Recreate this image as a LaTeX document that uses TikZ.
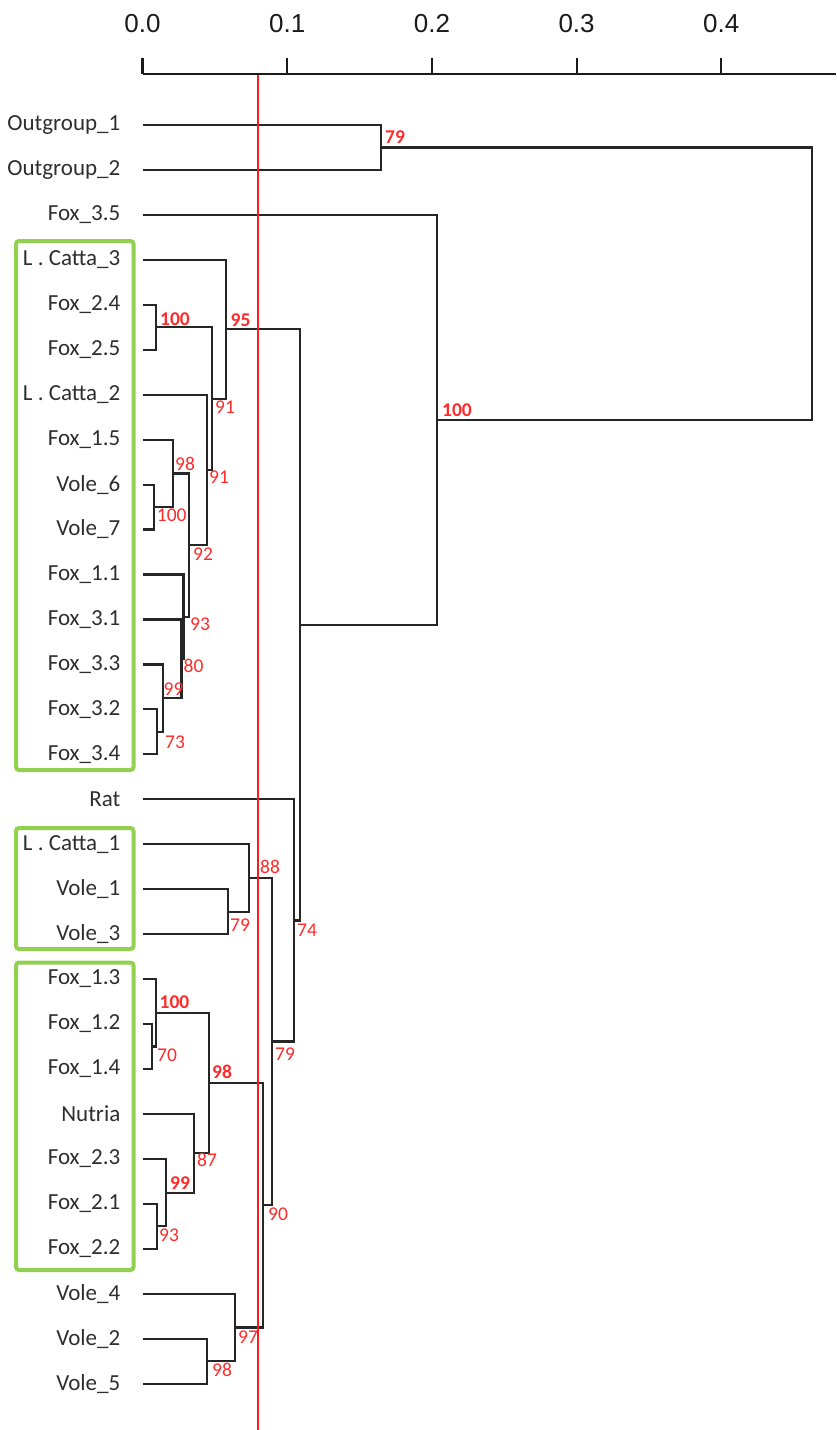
\documentclass[tikz,border=0pt]{standalone}
\usepackage{fontspec}
\setmainfont{Carlito}
\newfontfamily\axisfont{Liberation Sans}
\definecolor{treecol}{HTML}{262626}
\definecolor{leafcol}{HTML}{2E2E2E}
\definecolor{bscol}{HTML}{FF2A2A}
\definecolor{boxgreen}{HTML}{92D050}
\definecolor{rlcol}{HTML}{FF1A1A}
\definecolor{axcol}{HTML}{1A1A1A}
\begin{document}
\begin{tikzpicture}[x=1pt,y=-1pt,
  tree/.style={draw=treecol, line width=2.2pt},
  axisline/.style={draw=axcol, line width=2.2pt},
  cutline/.style={draw=rlcol, line width=2pt},
  leaf/.style={anchor=east, inner sep=0pt, text=leafcol, font=\fontsize{23}{27}\selectfont},
  bs/.style={anchor=base west, inner sep=0pt, text=bscol, font=\fontsize{19.5}{22}\selectfont},
  bsb/.style={anchor=base west, inner sep=0pt, text=bscol, font=\fontsize{19.5}{22}\selectfont\bfseries},
  grpbox/.style={draw=boxgreen, line width=4pt, rounded corners=3pt},
  axlab/.style={anchor=base, inner sep=0pt, text=axcol, font=\axisfont\fontsize{26}{29}\selectfont}]
\useasboundingbox (0,0) rectangle (836,1430);

% group boxes
\draw[grpbox] (16,241) rectangle (133.5,770);
\draw[grpbox] (16,828) rectangle (133.5,949);
\draw[grpbox] (16,962.5) rectangle (133.5,1270);

% axis
\coordinate (a0) at (142.5,74);
\coordinate (aend) at (836,74);
\draw[axisline] (a0) -- (aend);
\foreach \k in {0,1,2,3,4} {
  \coordinate (tk\k) at ({142.5+144.7*\k},58);
  \coordinate (tb\k) at ({142.5+144.7*\k},74);
  \draw[axisline] (tk\k) -- (tb\k);
  \node[axlab] (ax\k) at ({142.5+144.7*\k},32) {0.\k};
}

% leaves
\foreach \i/\t in {0/Outgroup\_1,1/Outgroup\_2,2/Fox\_3.5,3/L . Catta\_3,4/Fox\_2.4,5/Fox\_2.5,
  6/L . Catta\_2,7/Fox\_1.5,8/Vole\_6,9/Vole\_7,10/Fox\_1.1,11/Fox\_3.1,12/Fox\_3.3,13/Fox\_3.2,
  14/Fox\_3.4,15/Rat,16/L . Catta\_1,17/Vole\_1,18/Vole\_3,19/Fox\_1.3,20/Fox\_1.2,21/Fox\_1.4,
  22/Nutria,23/Fox\_2.3,24/Fox\_2.1,25/Fox\_2.2,26/Vole\_4,27/Vole\_2,28/Vole\_5} {
  \node[leaf] (L\i) at (120.5,{125+44.95*\i}) {\t};
  \coordinate (t\i) at (142.5,{125+44.95*\i});
}

% internal nodes
\coordinate (og) at (381,147.5);
\coordinate (root) at (812,283.7);
\coordinate (n35) at (437,419.85);
\coordinate (big) at (300,624.8);
\coordinate (n95) at (226,329.2);
\coordinate (n91a) at (212,398.6);
\coordinate (n100a) at (155.7,327.3);
\coordinate (n91b) at (207,469.85);
\coordinate (n92) at (189,545.0);
\coordinate (n98a) at (172.7,473.4);
\coordinate (n100b) at (154,507.1);
\coordinate (n93a) at (183.5,616.65);
\coordinate (n80) at (181.5,658.8);
\coordinate (n99a) at (163,698.1);
\coordinate (n73) at (157,731.8);
\coordinate (n74) at (294,920.4);
\coordinate (n79b) at (272,1041.55);
\coordinate (n88) at (249,877.9);
\coordinate (n79c) at (228,911.6);
\coordinate (n90) at (263,1205.2);
\coordinate (n98b) at (209,1083.0);
\coordinate (n100c) at (155.7,1012.8);
\coordinate (n70) at (152.3,1046.5);
\coordinate (n87) at (194,1153.25);
\coordinate (n99b) at (166,1192.6);
\coordinate (n93b) at (157,1226.3);
\coordinate (n97) at (235,1327.4);
\coordinate (n98c) at (206.7,1361.1);

% branches
\draw[tree] (t0) -| (og) |- (t1);
\draw[tree] (og) -| (root) |- (n35);
\draw[tree] (t2) -| (n35) |- (big);
\draw[tree] (n95) -| (big) |- (n74);
\draw[tree] (t3) -| (n95) |- (n91a);
\draw[tree] (n100a) -| (n91a) |- (n91b);
\draw[tree] (t4) -| (n100a) |- (t5);
\draw[tree] (t6) -| (n91b) |- (n92);
\draw[tree] (n98a) -| (n92) |- (n93a);
\draw[tree] (t7) -| (n98a) |- (n100b);
\draw[tree] (t8) -| (n100b) |- (t9);
\draw[tree] (t10) -| (n93a) |- (n80);
\draw[tree] (t11) -| (n80) |- (n99a);
\draw[tree] (t12) -| (n99a) |- (n73);
\draw[tree] (t13) -| (n73) |- (t14);
\draw[tree] (t15) -| (n74) |- (n79b);
\draw[tree] (n88) -| (n79b) |- (n90);
\draw[tree] (t16) -| (n88) |- (n79c);
\draw[tree] (t17) -| (n79c) |- (t18);
\draw[tree] (n98b) -| (n90) |- (n97);
\draw[tree] (n100c) -| (n98b) |- (n87);
\draw[tree] (t19) -| (n100c) |- (n70);
\draw[tree] (t20) -| (n70) |- (t21);
\draw[tree] (t22) -| (n87) |- (n99b);
\draw[tree] (t23) -| (n99b) |- (n93b);
\draw[tree] (t24) -| (n93b) |- (t25);
\draw[tree] (t26) -| (n97) |- (n98c);
\draw[tree] (t27) -| (n98c) |- (t28);

% cut line
\coordinate (rtop) at (258.3,75);
\coordinate (rbot) at (258.3,1430);
\draw[cutline] (rtop) -- (rbot);

% bootstrap values
\node[bsb] (b1) at (385,143.5) {79};
\node[bsb] (b2) at (442,416) {100};
\node[bsb] (b3) at (160,325) {100};
\node[bsb] (b4) at (230.5,326) {95};
\node[bs] (b5) at (215,413.5) {91};
\node[bs] (b6) at (209,483.5) {91};
\node[bs] (b7) at (193,560) {92};
\node[bs] (b8) at (175,470) {98};
\node[bs] (b9) at (156.7,521.5) {100};
\node[bs] (b10) at (190,630) {93};
\node[bs] (b11) at (183.5,672.5) {80};
\node[bs] (b12) at (163.5,695) {99};
\node[bs] (b13) at (165,748) {73};
\node[bs] (b14) at (297,936.5) {74};
\node[bs] (b15) at (260,873.3) {88};
\node[bs] (b16) at (230,931.5) {79};
\node[bs] (b17) at (275,1060) {79};
\node[bs] (b18) at (268,1220.5) {90};
\node[bsb] (b19) at (212,1078.5) {98};
\node[bsb] (b20) at (159.5,1008.5) {100};
\node[bs] (b21) at (157,1061) {70};
\node[bs] (b22) at (197,1166.5) {87};
\node[bsb] (b23) at (170,1189) {99};
\node[bs] (b24) at (159,1241.5) {93};
\node[bs] (b25) at (238,1343) {97};
\node[bs] (b26) at (212,1376.5) {98};
\end{tikzpicture}
\end{document}
